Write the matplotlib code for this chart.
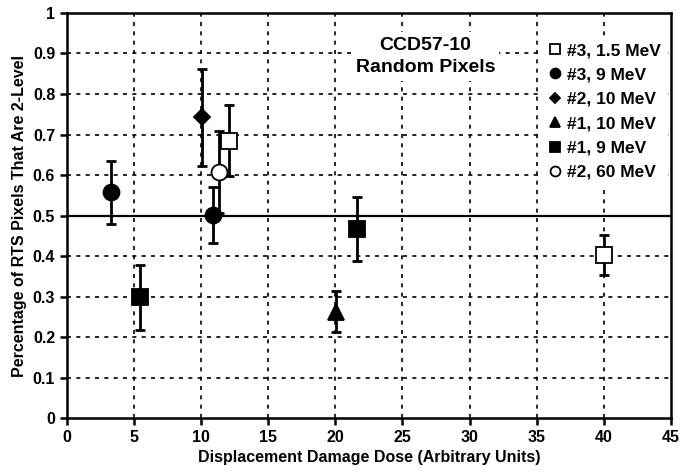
import matplotlib.pyplot as plt

plt.rcParams['font.family'] = ['Liberation Sans', 'DejaVu Sans']
plt.rcParams['font.weight'] = 'bold'

# Data: (x, y, error) per series
labels = ["#3, 1.5 MeV", "#3, 9 MeV", "#2, 10 MeV", "#1, 10 MeV", "#1, 9 MeV", "#2, 60 MeV"]
x_vals = [[12.06, 40.0], [3.25, 10.85], [10.03], [20.03], [5.44, 21.62], [11.34]]
y_vals = [[0.685, 0.402], [0.557, 0.501], [0.742], [0.263], [0.298, 0.466], [0.607]]
y_err = [[0.088, 0.05], [0.078, 0.07], [0.12], [0.05], [0.08, 0.079], [0.102]]

markers = ["s", "o", "D", "^", "s", "o"]
faces = ["white", "black", "black", "black", "black", "white"]
msizes = [11, 11.5, 8, 11, 11, 11.5]

x_ticks = list(range(0, 50, 5))
y_ticks = [0, 0.1, 0.2, 0.3, 0.4, 0.5, 0.6, 0.7, 0.8, 0.9, 1]
y_ticklabels = ["0", "0.1", "0.2", "0.3", "0.4", "0.5", "0.6", "0.7", "0.8", "0.9", "1"]

fig = plt.figure(figsize=(6.81, 4.76), dpi=100)
ax = fig.add_axes([0.0984, 0.1218, 0.8866, 0.8509])

# dotted grid
for xv in x_ticks[1:-1]:
    ax.axvline(xv, color="black", lw=1.2, dashes=(2.4, 3.2), zorder=1)
for yv in y_ticks[1:-1]:
    if yv == 0.5:
        continue
    ax.axhline(yv, color="black", lw=1.2, dashes=(2.4, 3.2), zorder=1)
ax.axhline(0.5, color="black", lw=1.6, zorder=2)

handles = []
for lab, xs, ys, es, m, fc, ms in zip(labels, x_vals, y_vals, y_err, markers, faces, msizes):
    ax.errorbar(xs, ys, yerr=es, fmt="none", ecolor="black", elinewidth=2,
                capsize=3.5, capthick=2, zorder=3)
    h, = ax.plot(xs, ys, linestyle="none", marker=m, markersize=ms,
                 markerfacecolor=fc, markeredgecolor="black", markeredgewidth=1.3,
                 zorder=4, label=lab)
    handles.append(h)

ax.set_xlim(0, 45)
ax.set_ylim(0, 1)
ax.set_xticks(x_ticks)
ax.set_yticks(y_ticks)
ax.set_yticklabels(y_ticklabels)
ax.tick_params(axis="both", direction="out", length=5, width=1.8, labelsize=11.5)
for s in ax.spines.values():
    s.set_linewidth(1.8)
    s.set_zorder(6)

ax.set_xlabel("Displacement Damage Dose (Arbitrary Units)", fontsize=11.5, fontweight="bold")
ax.set_ylabel("Percentage of RTS Pixels That Are 2-Level", fontsize=11.5, fontweight="bold")

ax.text(0.594, 0.8926, "CCD57-10\nRandom Pixels", transform=ax.transAxes,
        ha="center", va="center", fontsize=14, fontweight="bold", linespacing=1.45,
        zorder=5, bbox=dict(facecolor="white", edgecolor="none", pad=3))

leg = ax.legend(handles=handles, loc="upper left", bbox_to_anchor=(0.786, 0.943),
                frameon=True, facecolor="white", edgecolor="none", framealpha=1,
                fancybox=False, fontsize=12.5, markerscale=0.62, handlelength=0.7,
                handletextpad=0.35, labelspacing=0.53, borderaxespad=0, borderpad=0.4)
leg.set_zorder(5)
for t in leg.get_texts():
    t.set_fontweight("bold")

fig.savefig("out.png", dpi=100)
